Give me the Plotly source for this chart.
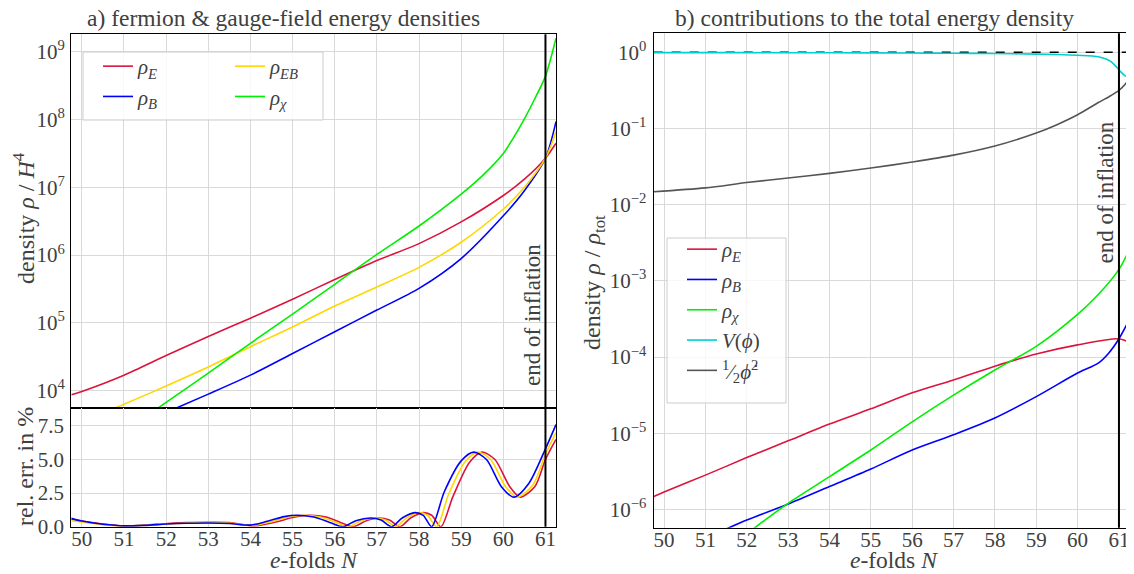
import numpy as np
import plotly.graph_objects as go

# ---------------- data ----------------
# panel a) top: log10 of energy densities rho / H^4
N_E = [49.75, 50.0, 51.0, 52.0, 53.0, 54.0, 55.0, 56.0, 57.0, 58.0, 59.0, 60.0, 60.5, 61.0, 61.25]
log_rhoE = [3.94, 3.99, 4.23, 4.52, 4.80, 5.07, 5.35, 5.64, 5.92, 6.17, 6.49, 6.88, 7.12, 7.43, 7.65]

N_B = [52.0, 53.0, 54.0, 55.0, 56.0, 57.0, 58.0, 59.0, 60.0, 60.5, 61.0, 61.25]
log_rhoB = [3.68, 3.95, 4.23, 4.55, 4.87, 5.19, 5.51, 5.95, 6.58, 6.95, 7.43, 7.97]

N_EB = [50.5, 51.0, 52.0, 53.0, 54.0, 55.0, 56.0, 57.0, 58.0, 59.0, 60.0, 60.5, 61.0, 61.25]
log_rhoEB = [3.67, 3.80, 4.07, 4.35, 4.65, 4.94, 5.25, 5.53, 5.82, 6.19, 6.68, 7.0, 7.43, 7.82]

N_X = [51.5, 52.0, 53.0, 54.0, 55.0, 56.0, 57.0, 58.0, 59.0, 59.5, 60.0, 60.25, 60.5, 60.75, 61.0, 61.25]
log_rhoX = [3.61, 3.83, 4.26, 4.70, 5.13, 5.57, 6.01, 6.43, 6.90, 7.17, 7.50, 7.74, 8.01, 8.31, 8.64, 9.2]

# panel a) bottom: relative error in %
N_errE = [49.75, 50.0, 50.5, 51.0, 51.5, 52.0, 52.5, 53.0, 53.5, 54.1, 54.6, 55.0, 55.4, 55.8,
          56.15, 56.45, 56.75, 57.05, 57.3, 57.55, 57.8, 58.1, 58.3, 58.52, 58.8, 59.2, 59.5,
          59.8, 60.15, 60.4, 60.75, 61.0, 61.25]
errE = [0.55, 0.42, 0.2, 0.06, 0.12, 0.22, 0.3, 0.32, 0.3, 0.06, 0.35, 0.68, 0.85, 0.72,
        0.3, 0.0, 0.45, 0.65, 0.5, 0.0, 0.65, 1.05, 0.85, 0.0, 2.2, 4.8, 5.55,
        5.0, 3.0, 2.2, 3.0, 5.0, 6.5]

N_errB = [49.75, 50.0, 50.5, 51.0, 51.5, 52.0, 52.5, 53.0, 53.5, 54.0, 54.4, 54.8, 55.1, 55.5,
          55.9, 56.2, 56.5, 56.85, 57.1, 57.35, 57.6, 57.9, 58.1, 58.3, 58.6, 59.0, 59.3,
          59.6, 59.95, 60.25, 60.6, 61.0, 61.25]
errB = [0.62, 0.42, 0.18, 0.06, 0.1, 0.2, 0.26, 0.28, 0.24, 0.12, 0.4, 0.75, 0.85, 0.72,
        0.3, 0.0, 0.45, 0.65, 0.5, 0.0, 0.65, 1.05, 0.85, 0.0, 2.6, 4.9, 5.55,
        5.0, 3.0, 2.2, 3.2, 5.8, 7.6]

N_errEB = [49.75, 50.0, 50.5, 51.0, 51.5, 52.0, 52.5, 53.0, 53.5, 54.05, 54.5, 54.9, 55.25, 55.65,
           56.05, 56.33, 56.62, 56.95, 57.2, 57.45, 57.7, 58.0, 58.2, 58.42, 58.7, 59.1, 59.4,
           59.7, 60.05, 60.33, 60.7, 61.0, 61.25]
errEB = [0.45, 0.35, 0.15, 0.05, 0.1, 0.2, 0.28, 0.3, 0.27, 0.08, 0.38, 0.72, 0.85, 0.72,
         0.3, 0.0, 0.45, 0.65, 0.5, 0.0, 0.65, 1.05, 0.85, 0.0, 2.4, 4.85, 5.55,
         5.0, 3.0, 2.2, 3.1, 5.4, 7.0]

# panel b): log10 of rho / rho_tot
Nb_E = [49.75, 50.0, 51.0, 52.0, 53.0, 54.0, 55.0, 56.0, 57.0, 58.0, 59.0, 60.0, 61.0, 61.25]
logb_E = [-5.83, -5.77, -5.55, -5.32, -5.10, -4.88, -4.68, -4.47, -4.30, -4.12, -3.96, -3.84, -3.76, -3.81]

Nb_B = [51.2, 52.0, 53.0, 54.0, 55.0, 56.0, 57.0, 58.0, 59.0, 60.0, 60.5, 60.75, 61.0, 61.25]
logb_B = [-6.33, -6.14, -5.93, -5.70, -5.47, -5.22, -5.02, -4.80, -4.52, -4.21, -4.08, -3.95, -3.76, -3.51]

Nb_X = [52.0, 53.0, 54.0, 55.0, 56.0, 57.0, 58.0, 59.0, 60.0, 60.5, 61.0, 61.25]
logb_X = [-6.32, -5.92, -5.57, -5.22, -4.85, -4.50, -4.17, -3.86, -3.44, -3.18, -2.85, -2.59]

Nb_V = [49.75, 52.0, 54.0, 56.0, 57.0, 58.0, 59.0, 59.5, 60.0, 60.5, 60.8, 60.95, 61.05, 61.15, 61.25]
logb_V = [-0.004, -0.005, -0.007, -0.01, -0.013, -0.017, -0.024, -0.03, -0.04, -0.06, -0.12, -0.2, -0.26, -0.31, -0.34]

Nb_K = [49.75, 51.0, 52.0, 53.0, 54.0, 55.0, 56.0, 57.0, 58.0, 59.0, 59.5, 60.0, 60.5, 60.8, 61.0, 61.15, 61.25]
logb_K = [-1.83, -1.78, -1.71, -1.65, -1.59, -1.52, -1.44, -1.35, -1.23, -1.06, -0.95, -0.82, -0.66, -0.57, -0.50, -0.42, -0.34]

N_end = 61.0
x_range = [49.75, 61.25]
x_ticks = list(range(50, 62))

# ---------------- style ----------------
FONT = "Liberation Serif"
TXT = "#404040"
GRID = "#d9d9d9"
C_E, C_B, C_EB, C_X, C_V, C_K = "#dc143c", "#0000ff", "#ffd700", "#00ee00", "#00ced1", "#555555"
LW = 1.6

fig = go.Figure()

def line(x, y, color, name, xa, ya, legend=None, show=True):
    fig.add_trace(go.Scatter(x=x, y=y, mode="lines", name=name,
                             line=dict(color=color, width=LW, shape="spline", smoothing=0.8),
                             xaxis=xa, yaxis=ya, showlegend=show,
                             legend=legend if legend else "legend"))

# panel a) top
line(N_E, 10 ** np.array(log_rhoE), C_E, "<i>ρ</i><sub><i>E</i></sub>", "x", "y", "legend")
line(N_B, 10 ** np.array(log_rhoB), C_B, "<i>ρ</i><sub><i>B</i></sub>", "x", "y", "legend")
line(N_EB, 10 ** np.array(log_rhoEB), C_EB, "<i>ρ</i><sub><i>EB</i></sub>", "x", "y", "legend2")
line(N_X, 10 ** np.array(log_rhoX), C_X, "<i>ρ</i><sub><i>χ</i></sub>", "x", "y", "legend2")

# panel a) bottom
line(N_errE, errE, C_E, "", "x2", "y2", show=False)
line(N_errEB, errEB, C_EB, "", "x2", "y2", show=False)
line(N_errB, errB, C_B, "", "x2", "y2", show=False)

# panel b)
fig.add_trace(go.Scatter(x=x_range, y=[1, 1], mode="lines", showlegend=False,
                         line=dict(color="black", width=1.6, dash="dash"), xaxis="x3", yaxis="y3"))
line(Nb_E, 10 ** np.array(logb_E), C_E, "<i>ρ</i><sub><i>E</i></sub>", "x3", "y3", "legend3")
line(Nb_B, 10 ** np.array(logb_B), C_B, "<i>ρ</i><sub><i>B</i></sub>", "x3", "y3", "legend3")
line(Nb_X, 10 ** np.array(logb_X), C_X, "<i>ρ</i><sub><i>χ</i></sub>", "x3", "y3", "legend3")
line(Nb_V, 10 ** np.array(logb_V), C_V, "<i>V</i>(<i>ϕ</i>)", "x3", "y3", "legend3")
line(Nb_K, 10 ** np.array(logb_K), C_K, "<sup>1</sup>⁄<sub>2</sub><i>ϕ̇</i><sup>2</sup>", "x3", "y3", "legend3")

# the page has an 8px body margin: size the figure so it fits the window exactly
OFF = 8
W, H = 1134 - OFF, 574 - OFF
def px_x(p): return (p - OFF) / W
def px_y(p): return 1 - (p - OFF) / H

xl = [px_x(71.3), px_x(556)]
xr = [px_x(653.7), px_x(1129.3)]
y_top = [px_y(407.7), px_y(34.3)]
y_bot = [px_y(526.7), px_y(407.7)]
y_right = [px_y(527.7), px_y(33.3)]

axis_common = dict(showgrid=True, gridcolor=GRID, gridwidth=1, zeroline=False, automargin=False,
                   showline=True, linecolor="black", linewidth=1.3, mirror=True, ticks="",
                   tickfont=dict(family=FONT, size=21, color=TXT))

LEGFONT = dict(family=FONT, size=21, color=TXT)
fig.update_layout(
    width=W, height=H, margin=dict(l=0, r=0, t=0, b=0, autoexpand=False),
    paper_bgcolor="white", plot_bgcolor="white",
    font=dict(family=FONT, size=21, color=TXT),
    xaxis=dict(domain=xl, range=x_range, anchor="y", tickvals=x_ticks, showticklabels=False, **axis_common),
    yaxis=dict(domain=y_top, type="log", range=[3.75, 9.257], anchor="x",
               tickvals=[10 ** k for k in range(4, 10)],
               ticktext=[f"10<sup>{k}</sup>" for k in range(4, 10)], ticklabelstandoff=1, **axis_common),
    xaxis2=dict(domain=xl, range=x_range, anchor="y2", tickvals=x_ticks, ticklabelstandoff=-7, **axis_common),
    yaxis2=dict(domain=y_bot, range=[0, 8.86], anchor="x2", tickvals=[0, 2.5, 5.0, 7.5],
                tickformat=".1f", ticklabelstandoff=2, **axis_common),
    xaxis3=dict(domain=xr, range=x_range, anchor="y3", tickvals=x_ticks, ticklabelstandoff=-7, **axis_common),
    yaxis3=dict(domain=y_right, type="log", range=[-6.24, 0.249], anchor="x3",
                tickvals=[10.0 ** k for k in range(-6, 1)],
                ticktext=[f"10<sup>{'−' + str(-k) if k < 0 else k}</sup>" for k in range(-6, 1)],
                ticklabelstandoff=2, **axis_common),
    legend=dict(x=px_x(98), y=px_y(46), xanchor="left", yanchor="top", bgcolor="rgba(0,0,0,0)",
                font=LEGFONT, tracegroupgap=0),
    legend2=dict(x=px_x(230), y=px_y(46), xanchor="left", yanchor="top", bgcolor="rgba(0,0,0,0)",
                 font=LEGFONT, tracegroupgap=0),
    legend3=dict(x=px_x(682), y=px_y(229), xanchor="left", yanchor="top", bgcolor="rgba(0,0,0,0)",
                 font=LEGFONT, tracegroupgap=0),
)

# legend frames
fig.add_shape(type="rect", xref="paper", yref="paper", x0=px_x(83), x1=px_x(323),
              y0=px_y(120), y1=px_y(52), layer="above",
              fillcolor="rgba(255,255,255,0.8)", line=dict(color="#cccccc", width=1))
fig.add_shape(type="rect", xref="paper", yref="paper", x0=px_x(667), x1=px_x(786),
              y0=px_y(403), y1=px_y(238), layer="above",
              fillcolor="rgba(255,255,255,0.8)", line=dict(color="#cccccc", width=1))

# end of inflation lines
for xa, ya in [("x", "y"), ("x2", "y2"), ("x3", "y3")]:
    fig.add_shape(type="line", xref=xa, yref=f"{ya} domain", x0=N_end, x1=N_end, y0=0, y1=1,
                  line=dict(color="black", width=2), layer="above")

def ann(size):
    return dict(showarrow=False, borderpad=0, font=dict(family=FONT, size=size, color=TXT))

fig.add_annotation(x=N_end, xref="x", y=px_y(315), yref="paper", text="end of inflation",
                   textangle=-90, xanchor="right", yanchor="middle", xshift=0, **ann(23))
fig.add_annotation(x=N_end, xref="x3", y=px_y(192), yref="paper", text="end of inflation",
                   textangle=-90, xanchor="right", yanchor="middle", xshift=0, **ann(23))

# titles
fig.add_annotation(x=px_x(283), y=px_y(18), xref="paper", yref="paper",
                   text="a) fermion &amp; gauge-field energy densities",
                   xanchor="center", yanchor="middle", **ann(23.5))
fig.add_annotation(x=px_x(874), y=px_y(18), xref="paper", yref="paper",
                   text="b) contributions to the total energy density",
                   xanchor="center", yanchor="middle", **ann(23.5))

# axis titles
fig.add_annotation(x=px_x(24), y=px_y(218), xref="paper", yref="paper",
                   text="density <i>ρ</i> / <i>H</i><sup>4</sup>", textangle=-90,
                   xanchor="center", yanchor="middle", **ann(24))
fig.add_annotation(x=px_x(25), y=px_y(467), xref="paper", yref="paper",
                   text="rel. err. in %", textangle=-90, xanchor="center", yanchor="middle", **ann(24))
fig.add_annotation(x=px_x(314), y=px_y(560), xref="paper", yref="paper",
                   text="<i>e</i>-folds <i>N</i>", xanchor="center", yanchor="middle", **ann(23.5))
fig.add_annotation(x=px_x(594), y=px_y(283), xref="paper", yref="paper",
                   text="density <i>ρ</i> / <i>ρ</i><sub>tot</sub>", textangle=-90,
                   xanchor="center", yanchor="middle", **ann(24))
fig.add_annotation(x=px_x(894), y=px_y(560), xref="paper", yref="paper",
                   text="<i>e</i>-folds <i>N</i>", xanchor="center", yanchor="middle", **ann(23.5))

fig.write_html("out.html")
